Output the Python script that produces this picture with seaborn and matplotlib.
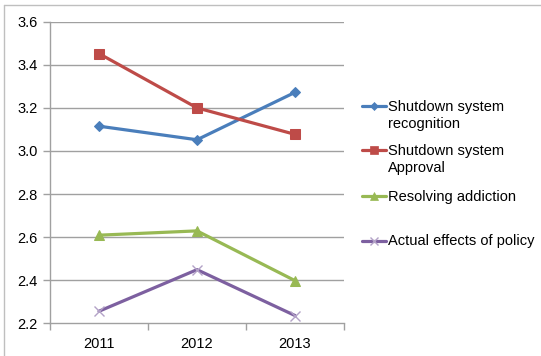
import matplotlib
matplotlib.use("Agg")
import matplotlib.pyplot as plt
from matplotlib.lines import Line2D
import seaborn as sns
import pandas as pd

years = ["2011", "2012", "2013"]
recognition = [3.115, 3.052, 3.272]
approval = [3.452, 3.200, 3.077]
addiction = [2.609, 2.629, 2.398]
policy_effects = [2.256, 2.449, 2.236]

series_names = [
    "Shutdown system\nrecognition",
    "Shutdown system\nApproval",
    "Resolving addiction",
    "Actual effects of policy",
]
y_ticks = [2.2, 2.4, 2.6, 2.8, 3.0, 3.2, 3.4, 3.6]

colors = ["#4A7EBB", "#BE4B48", "#98B954", "#7D60A0"]
markers = ["D", "s", "^", "x"]
marker_sizes = [5.5, 7.5, 7, 6.5]

sns.set_theme(style="white")
plt.rcParams["font.family"] = ["Liberation Sans", "DejaVu Sans"]

df = pd.DataFrame({
    "year": years * 4,
    "value": recognition + approval + addiction + policy_effects,
    "series": [n for n in series_names for _ in years],
})

W, H = 541, 356
fig = plt.figure(figsize=(W / 100, H / 100), dpi=100)
fig.patch.set_facecolor("white")

left, right, top, bottom = 50, 344, 21.7, 323.3
ax = fig.add_axes([left / W, 1 - bottom / H, (right - left) / W, (bottom - top) / H])

sns.lineplot(data=df, x="year", y="value", hue="series", palette=colors,
             hue_order=series_names, ax=ax, legend=False, linewidth=2.3,
             sort=False)
for line, m, ms, c in zip(ax.lines, markers, marker_sizes, colors):
    line.set_marker(m)
    line.set_markersize(ms)
    line.set_markerfacecolor(c)
    line.set_markeredgecolor(c)
    if m == "x":
        line.set_markeredgecolor("#B3A2C7")
        line.set_markeredgewidth(1.0)

ax.set_xlim(-0.5, 2.5)
ax.set_ylim(2.2, 3.6)
ax.set_yticks(y_ticks)
ax.set_yticklabels([f"{v:.1f}" for v in y_ticks])
ax.set_xlabel("")
ax.set_ylabel("")

grid_c = "#A0A0A0"
for v in y_ticks[1:]:
    ax.axhline(v, color=grid_c, linewidth=1.0, zorder=0)

for s in ["top", "right"]:
    ax.spines[s].set_visible(False)
for s in ["left", "bottom"]:
    ax.spines[s].set_color(grid_c)
    ax.spines[s].set_linewidth(1.0)

# value axis ticks point outward to the left
ax.tick_params(axis="y", which="major", left=True, length=5, width=1.0,
               color=grid_c, direction="out", labelsize=10.5, pad=4,
               labelcolor="#000000")
# category axis: labels centred, tick marks between categories
ax.tick_params(axis="x", which="major", bottom=False, length=0,
               labelsize=10.5, pad=10, labelcolor="#000000")
ax.set_xticks([-0.5, 0.5, 1.5, 2.5], minor=True)
ax.tick_params(axis="x", which="minor", bottom=True, length=5, width=1.0,
               color=grid_c, direction="out")

# legend on the right
leg_rows = [106, 150, 196, 241]
lx0, lx1, tx = 362, 386, 388
for name, c, m, ms, yy in zip(series_names, colors, markers, marker_sizes, leg_rows):
    fy = 1 - yy / H
    mec = "#B3A2C7" if m == "x" else c
    fig.add_artist(Line2D([lx0 / W, lx1 / W], [fy, fy], transform=fig.transFigure,
                          color=c, linewidth=2.3))
    fig.add_artist(Line2D([(lx0 + lx1) / 2 / W], [fy], transform=fig.transFigure,
                          marker=m, markersize=ms * 0.8, color=c,
                          markerfacecolor=c, markeredgecolor=mec,
                          markeredgewidth=1.0 if m == "x" else 0.5))
    fig.text(tx / W, fy + 6.5 / H, name, transform=fig.transFigure,
             fontsize=10.5, va="top", ha="left", linespacing=1.35,
             color="#000000")

# thin frame along the top and left edges
fig.add_artist(Line2D([4 / W, 1], [1 - 5 / H, 1 - 5 / H], transform=fig.transFigure,
                      color="#BFBFBF", linewidth=1.0))
fig.add_artist(Line2D([4 / W, 4 / W], [0, 1 - 5 / H], transform=fig.transFigure,
                      color="#BFBFBF", linewidth=1.0))

fig.savefig("out.png", dpi=100, facecolor="white")
